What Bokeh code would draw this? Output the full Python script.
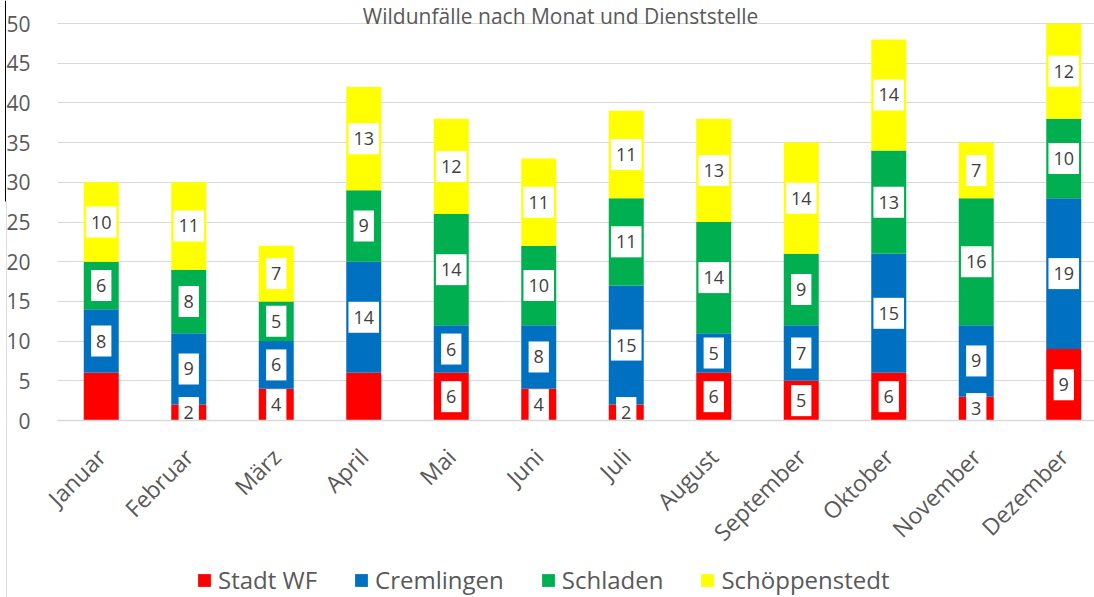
import numpy as np
from bokeh.plotting import figure
from bokeh.models import (ColumnDataSource, Range1d, FixedTicker, Legend, LegendItem,
                          Label, BoxAnnotation)
from bokeh.core.properties import value
from bokeh.embed import file_html
from bokeh.resources import INLINE

# ---- data ----
months = ["Januar", "Februar", "März", "April", "Mai", "Juni", "Juli",
          "August", "September", "Oktober", "November", "Dezember"]
series = ["Stadt WF", "Cremlingen", "Schladen", "Schöppenstedt"]
stadt_wf = [6, 2, 4, 6, 6, 4, 2, 6, 5, 6, 3, 9]
cremlingen = [8, 9, 6, 14, 6, 8, 15, 5, 7, 15, 9, 19]
schladen = [6, 8, 5, 9, 14, 10, 11, 14, 9, 13, 16, 10]
schoeppenstedt = [10, 11, 7, 13, 12, 11, 11, 13, 14, 14, 7, 12]
colors = ["#FF0000", "#0070C0", "#00B050", "#FFFF00"]
y_ticks = [0, 5, 10, 15, 20, 25, 30, 35, 40, 45, 50]
unlabelled = [("Stadt WF", "Januar"), ("Stadt WF", "April")]
title_text = "Wildunfälle nach Monat und Dienststelle"

FONT = "Open Sans"
GREY = "#595959"

keys = ["s0", "s1", "s2", "s3"]
values = [stadt_wf, cremlingen, schladen, schoeppenstedt]
idx = list(range(len(months)))
data = {"x": idx}
for k, v in zip(keys, values):
    data[k] = v
source = ColumnDataSource(data)

# ---- layout (pixels) ----
W, H = 1094, 597
LEFT, TOP = 57, 23     # plot area's left edge / position of the top (50) line
CAT_PX = 87.5          # pixels per category
UNIT_PX = 7.94         # pixels per y unit
y_max = y_ticks[-1]
cat_lo = -0.5
x_start = cat_lo - LEFT / CAT_PX
x_end = cat_lo + (W - LEFT) / CAT_PX
y_end = y_max + TOP / UNIT_PX
y_start = y_max - (H - TOP) / UNIT_PX

p = figure(width=W, height=H,
           x_range=Range1d(x_start, x_end), y_range=Range1d(y_start, y_end),
           output_backend="svg", toolbar_location=None,
           min_border_left=0, min_border_right=0,
           min_border_top=0, min_border_bottom=0)
p.outline_line_color = None
p.background_fill_color = "white"
p.border_fill_color = "white"

# white mask left of the plot area so the grid starts where the bars begin
p.add_layout(BoxAnnotation(right=cat_lo, fill_color="white", fill_alpha=1,
                           line_color=None, level="underlay"))

# thin frame line at the very left edge (dark at top, light below)
p.add_layout(BoxAnnotation(left=4.5, right=5.5, bottom=H - 201, top=H,
                           left_units="screen", right_units="screen",
                           bottom_units="screen", top_units="screen",
                           fill_color="#000000", fill_alpha=1, line_color=None))
p.add_layout(BoxAnnotation(left=5.5, right=6.5, bottom=0, top=H - 201,
                           left_units="screen", right_units="screen",
                           bottom_units="screen", top_units="screen",
                           fill_color="#DDDDDD", fill_alpha=1, line_color=None))

renderers = p.vbar_stack(keys, x="x", width=0.40, fill_color=colors,
                         line_color=None, source=source)

# data labels
lx, ly, lt = [], [], []
bottom = np.zeros(len(months))
for name, vals in zip(series, values):
    arr = np.array(vals, dtype=float)
    for i, m in enumerate(months):
        if (name, m) in unlabelled:
            continue
        lx.append(i)
        ly.append(bottom[i] + arr[i] / 2)
        lt.append(str(vals[i]))
    bottom += arr
lab_src = ColumnDataSource(dict(x=lx, y=ly, text=lt))
p.text(x="x", y="y", text="text", source=lab_src,
       text_font=value(FONT), text_font_size="18px", text_color="#404040",
       text_align="center", text_baseline="middle",
       background_fill_color="white",
       padding=dict(left=5, right=5, top=9, bottom=9))

# grid and axes
p.xgrid.grid_line_color = None
p.ygrid.grid_line_color = "#D9D9D9"
p.ygrid.grid_line_width = 1
p.ygrid.ticker = FixedTicker(ticks=y_ticks)

p.yaxis.fixed_location = cat_lo
p.yaxis.ticker = FixedTicker(ticks=y_ticks)
p.yaxis.axis_line_color = None
p.yaxis.major_tick_line_color = None
p.yaxis.minor_tick_line_color = None
p.yaxis.major_label_text_font = FONT
p.yaxis.major_label_text_font_size = "21px"
p.yaxis.major_label_text_color = GREY
p.yaxis.major_label_standoff = 21

p.xaxis.fixed_location = 0
p.xaxis.bounds = (cat_lo, x_end)
p.xaxis.ticker = FixedTicker(ticks=idx)
p.xaxis.major_label_overrides = {i: m for i, m in enumerate(months)}
p.xaxis.major_label_orientation = np.pi / 4
p.xaxis.axis_line_color = "#D9D9D9"
p.xaxis.axis_line_width = 1.5
p.xaxis.major_tick_line_color = None
p.xaxis.minor_tick_line_color = None
p.xaxis.major_label_text_font = FONT
p.xaxis.major_label_text_font_size = "23px"
p.xaxis.major_label_text_color = GREY
p.xaxis.major_label_standoff = 26

# title
p.add_layout(Label(x=5.25, y=y_max + (TOP - 15) / UNIT_PX, text=title_text,
                   text_align="center", text_baseline="middle",
                   text_font=FONT, text_font_size="21px", text_color=GREY))

# legend
items = [LegendItem(label=s, renderers=[r]) for s, r in zip(series, renderers)]
legend = Legend(items=items, orientation="horizontal", location=(196, 1),
                glyph_width=16, glyph_height=16, label_standoff=6, spacing=36,
                padding=0, margin=0, border_line_color=None,
                background_fill_alpha=0, label_text_font=FONT,
                label_text_font_size="24px", label_text_color=GREY)
p.add_layout(legend)

open("out.html", "w").write(file_html(p, INLINE))
